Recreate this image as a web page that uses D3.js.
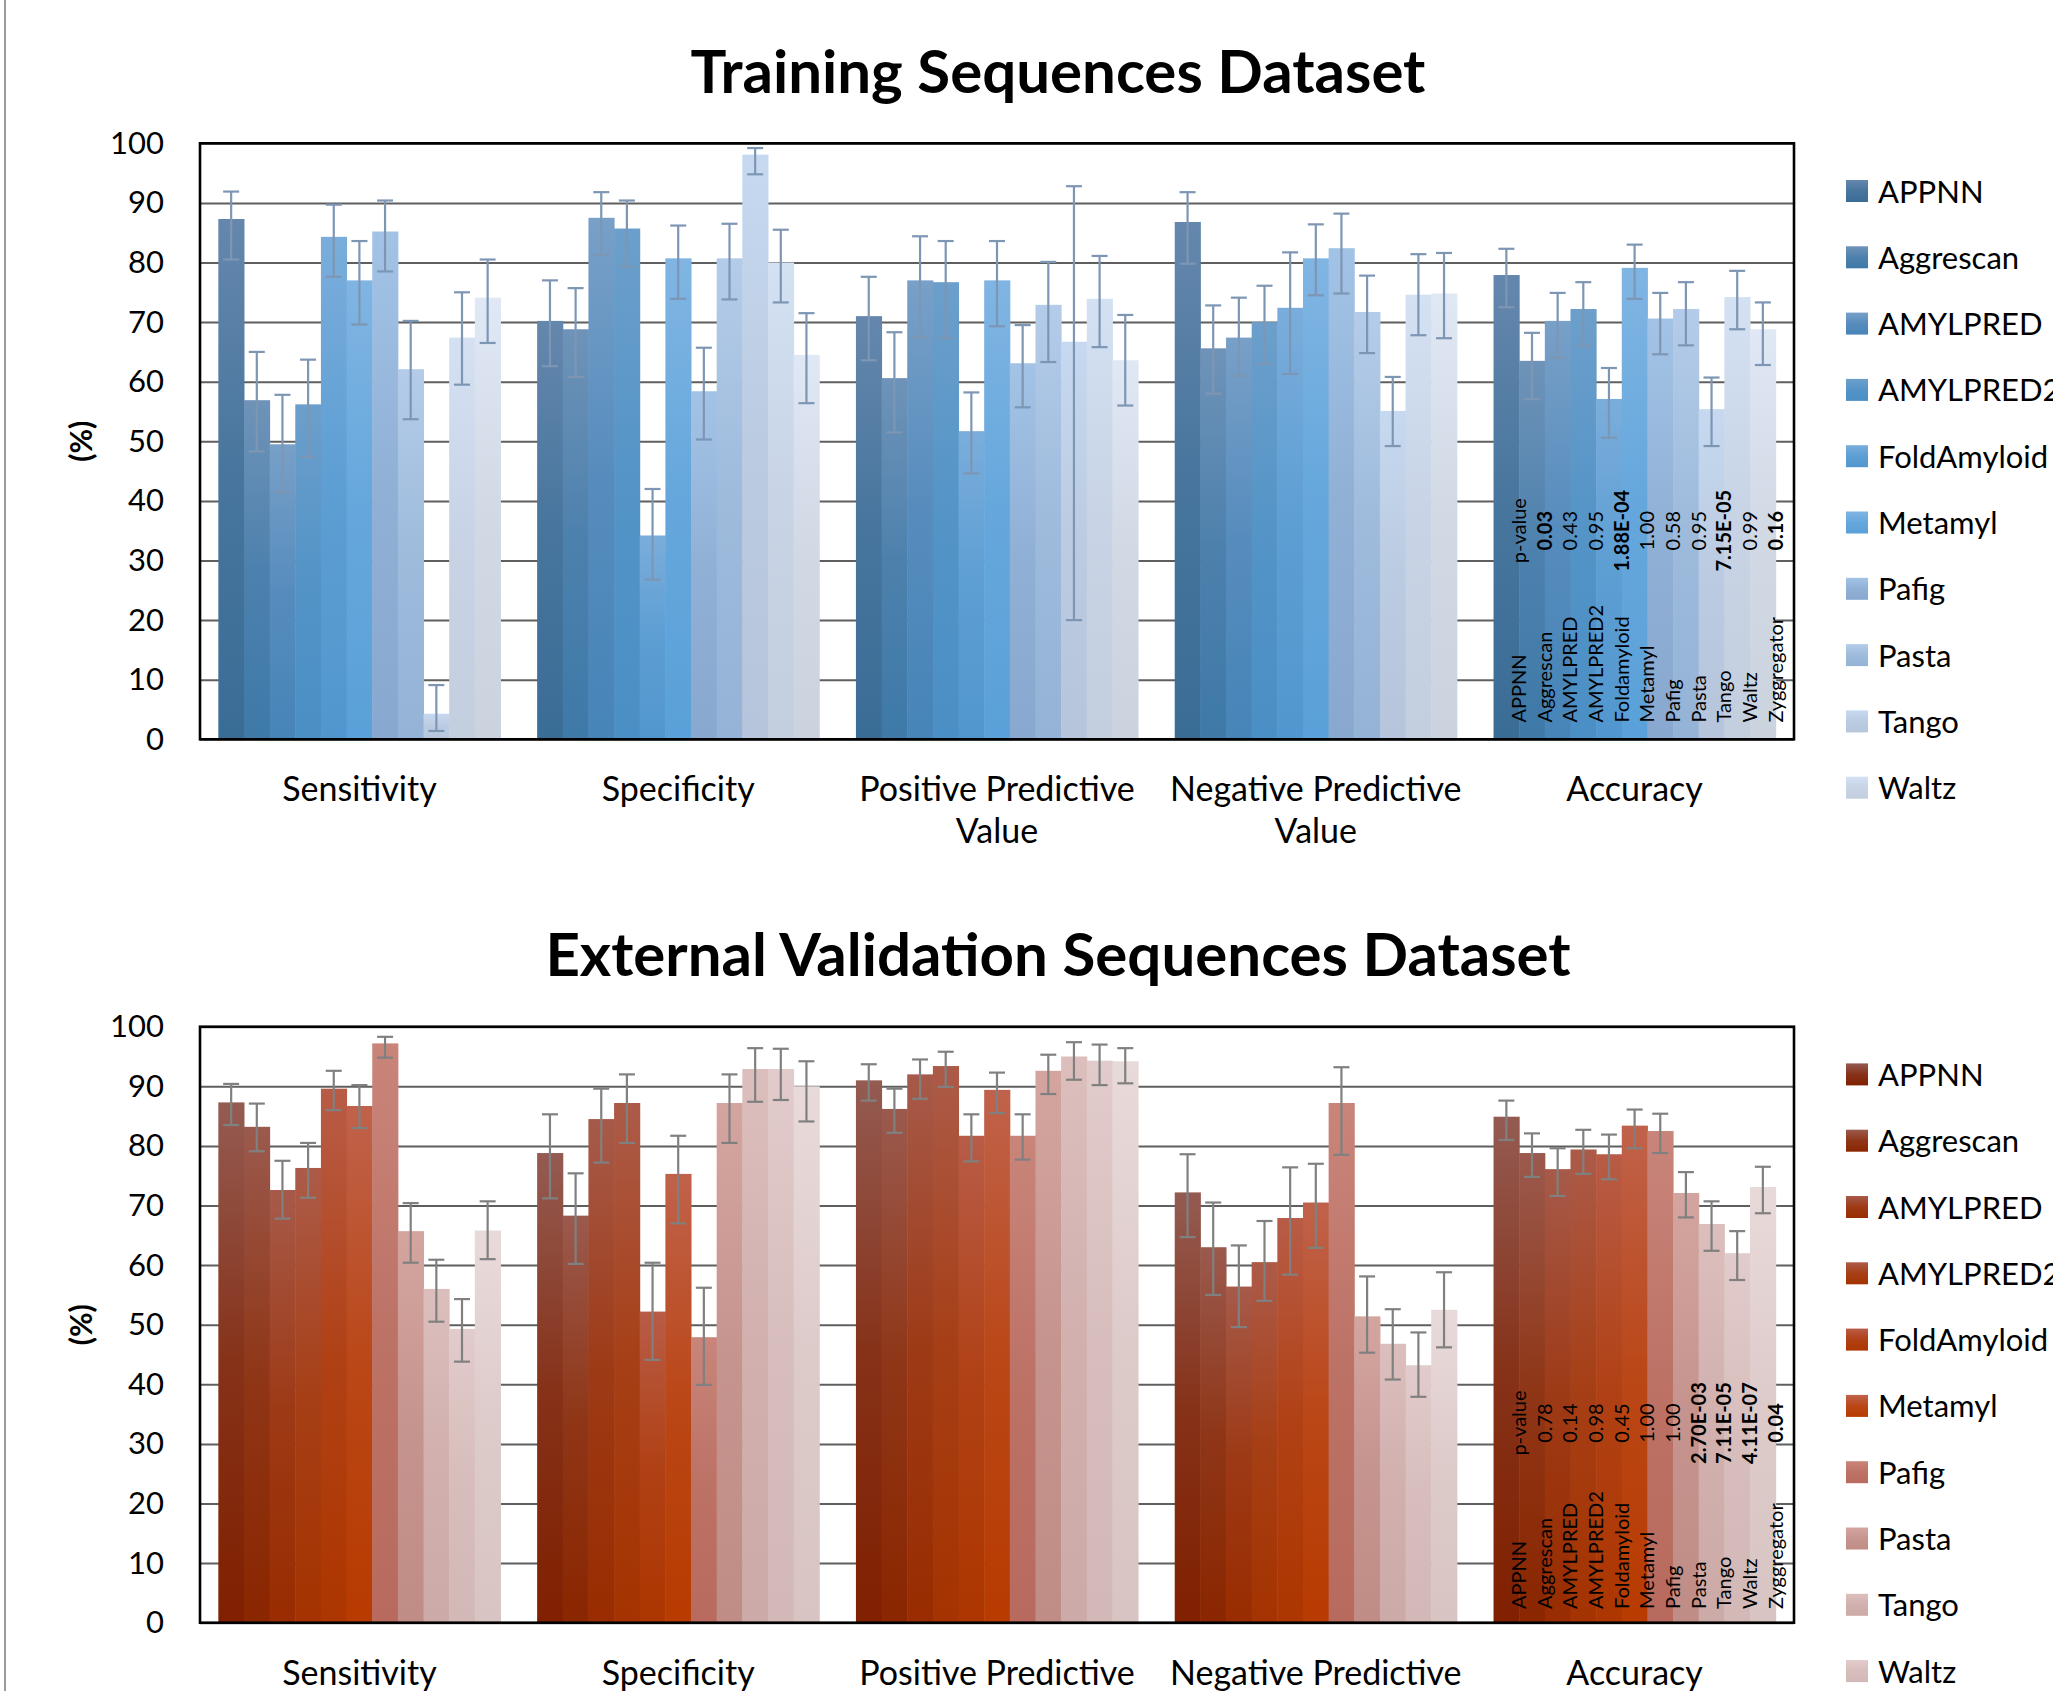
<!DOCTYPE html>
<html>
<head>
<meta charset="utf-8">
<script src="https://d3js.org/d3.v7.min.js"></script>
<title>Training / External Validation</title>
<style>
  body { margin: 0; background: #fff; font-family: Lato, 'Open Sans', sans-serif; }
</style>
</head>
<body>
<script>
// ---- data ----
var tools = ["APPNN","Aggrescan","AMYLPRED","AMYLPRED2","FoldAmyloid","Metamyl","Pafig","Pasta","Tango","Waltz","Zyggregator"];
var legendTools = tools.slice(0, 10);   // Zyggregator does not fit in the legend
var annotTools = ["APPNN","Aggrescan","AMYLPRED","AMYLPRED2","Foldamyloid","Metamyl","Pafig","Pasta","Tango","Waltz","Zyggregator"];
var metrics = ["Sensitivity","Specificity","Positive Predictive Value","Negative Predictive Value","Accuracy"];
var metricLines = [["Sensitivity"],["Specificity"],["Positive Predictive","Value"],["Negative Predictive","Value"],["Accuracy"]];
var yTicks = [0,10,20,30,40,50,60,70,80,90,100];

// rows = metrics, columns = tools
var trainValues = [
  [87.3, 56.9, 49.5, 56.2, 84.3, 77.0, 85.2, 62.1,  4.3, 67.4, 74.1],
  [70.2, 68.8, 87.5, 85.7, 34.2, 80.7, 58.4, 80.7, 98.1, 80.0, 64.5],
  [71.0, 60.6, 77.0, 76.7, 51.7, 77.0, 63.1, 72.9, 66.7, 73.9, 63.6],
  [86.8, 65.6, 67.4, 70.0, 72.4, 80.7, 82.4, 71.7, 55.1, 74.6, 74.8],
  [77.9, 63.5, 70.2, 72.2, 57.1, 79.1, 70.6, 72.2, 55.4, 74.2, 68.8]];
var trainLow = [
  [80.5, 48.3, 41.5, 47.4, 77.6, 69.6, 78.5, 53.7,  1.4, 59.5, 66.5],
  [62.6, 60.8, 81.3, 79.3, 26.8, 73.9, 50.3, 73.8, 94.8, 73.3, 56.4],
  [63.6, 51.5, 67.4, 67.3, 44.6, 69.3, 55.7, 63.3, 20.0, 65.8, 56.0],
  [79.8, 58.0, 61.0, 63.0, 61.3, 74.5, 74.8, 64.8, 49.2, 67.8, 67.3],
  [72.5, 57.1, 64.0, 66.0, 50.6, 73.9, 64.6, 66.1, 49.2, 68.8, 62.8]];
var trainHigh = [
  [91.9, 65.0, 57.8, 63.7, 89.7, 83.6, 90.4, 70.2,  9.1, 75.0, 80.5],
  [77.0, 75.7, 91.8, 90.4, 42.0, 86.2, 65.7, 86.5, 99.2, 85.5, 71.5],
  [77.6, 68.3, 84.4, 83.6, 58.2, 83.6, 69.5, 80.1, 92.8, 81.1, 71.2],
  [91.8, 72.8, 74.1, 76.1, 81.7, 86.4, 88.2, 77.8, 60.8, 81.4, 81.6],
  [82.3, 68.2, 74.9, 76.7, 62.3, 83.0, 74.9, 76.7, 60.7, 78.6, 73.3]];
var trainP    = ["p-value","0.03","0.43","0.95","1.88E-04","1.00","0.58","0.95","7.15E-05","0.99","0.16"];
var trainBold = [false, true, false, false, true, false, false, false, true, false, true];

var extValues = [
  [87.3, 83.2, 72.6, 76.3, 89.6, 86.7, 97.2, 65.7, 56.0, 49.3, 65.8],
  [78.8, 68.3, 84.5, 87.2, 52.2, 75.3, 47.9, 87.2, 92.9, 92.9, 90.0],
  [91.0, 86.2, 92.0, 93.4, 81.7, 89.4, 81.7, 92.6, 95.0, 94.3, 94.2],
  [72.2, 63.0, 56.4, 60.5, 67.9, 70.5, 87.2, 51.4, 46.8, 43.2, 52.5],
  [84.9, 78.8, 76.1, 79.4, 78.6, 83.4, 82.5, 72.1, 66.9, 62.0, 73.1]];
var extLow = [
  [83.5, 79.1, 67.8, 71.3, 86.0, 83.0, 94.8, 60.4, 50.5, 43.8, 61.0],
  [71.2, 60.2, 77.2, 80.5, 44.1, 67.0, 39.9, 80.5, 87.4, 87.7, 84.1],
  [87.6, 82.2, 87.9, 89.9, 77.4, 85.5, 77.7, 88.7, 91.1, 90.2, 90.5],
  [64.7, 55.0, 49.6, 54.0, 58.4, 62.9, 78.5, 45.3, 40.8, 37.9, 46.2],
  [81.0, 74.8, 71.6, 75.3, 74.4, 79.6, 78.8, 68.0, 62.4, 57.5, 68.7]];
var extHigh = [
  [90.4, 87.1, 77.5, 80.5, 92.6, 90.2, 98.3, 70.4, 60.9, 54.3, 70.7],
  [85.3, 75.4, 89.6, 92.0, 60.4, 81.7, 56.2, 92.0, 96.4, 96.3, 94.2],
  [93.7, 89.6, 94.5, 95.8, 85.3, 92.3, 85.3, 95.3, 97.4, 97.0, 96.4],
  [78.6, 70.5, 63.3, 67.4, 76.4, 77.0, 93.2, 58.1, 52.6, 48.7, 58.8],
  [87.6, 82.1, 79.6, 82.7, 81.9, 86.1, 85.4, 75.6, 70.7, 65.7, 76.5]];
var extP    = ["p-value","0.78","0.14","0.98","0.45","1.00","1.00","2.70E-03","7.11E-05","4.11E-07","0.04"];
var extBold = [false, false, false, false, false, false, false, true, true, true, true];

// ---- colours (top of bar, bottom of bar) ----
var blueTop    = ["#6587ad","#6f93b8","#78a0c8","#6c9fcb","#7aaddb","#80b5e3","#a3c3e6","#b4cce9","#c6d9f0","#d3e1f2","#dfe8f4"];
var blueBottom = ["#3a6d96","#3e79a8","#4784b8","#4a8fc5","#5197cf","#5aa1d9","#88a8cf","#94b3d6","#b6c5db","#c3cfdf","#cbd3df"];
var redTop     = ["#945b52","#9b5a4e","#a75a4a","#ac5b49","#b85c47","#c0624b","#c9857a","#d4a59f","#dcbfbd","#e2cbcb","#e9dada"];
var redBottom  = ["#802000","#8a2600","#992c00","#a43300","#ad3600","#b83b00","#b86a5e","#c08c86","#ccaaa7","#d2b8b6","#d8c5c3"];

var W = 2053, H = 1691,
    left = 200, right = 1794,   // plot x extent
    plotH = 596;

var svg = d3.select("body").append("svg")
  .attr("width", W)
  .attr("height", H)
  .style("display", "block");

var defs = svg.append("defs");

// thin frame line on the left edge of the figure
svg.append("line")
  .attr("x1", 5).attr("x2", 5).attr("y1", 0).attr("y2", H)
  .attr("stroke", "#9a9a9a").attr("stroke-width", 2);

function makeGradients(id, tops, bottoms){
  tops.forEach(function(c, i){
    var g = defs.append("linearGradient")
      .attr("id", id + i)
      .attr("x1", 0).attr("y1", 0).attr("x2", 0).attr("y2", 1);
    g.append("stop").attr("offset", "0%").attr("stop-color", c);
    g.append("stop").attr("offset", "50%").attr("stop-color", d3.interpolateRgb(c, bottoms[i])(0.7));
    g.append("stop").attr("offset", "100%").attr("stop-color", bottoms[i]);
  });
}
makeGradients("blue", blueTop, blueBottom);
makeGradients("red", redTop, redBottom);

function drawPanel(p){
  var top = p.top, bottom = p.top + plotH;

  var x = d3.scaleBand().domain(metrics).range([left, right])
    .paddingInner(0.115).paddingOuter(0.0575);
  var xi = d3.scaleBand().domain(tools).range([0, x.bandwidth()]);
  var y = d3.scaleLinear().domain([0, 100]).range([bottom, top]);

  var g = svg.append("g");

  g.append("text")
    .attr("x", 1058).attr("y", p.titleY)
    .attr("text-anchor", "middle")
    .attr("font-size", 60).attr("font-weight", "bold")
    .text(p.title);

  // grid lines
  g.append("g")
    .attr("transform", "translate(" + left + ",0)")
    .call(d3.axisLeft(y).tickValues(yTicks).tickSize(-(right - left)).tickFormat(""))
    .call(function(a){
      a.select(".domain").remove();
      a.selectAll("line").attr("stroke", "#5f5f5f").attr("stroke-width", 2);
    });

  // tick labels
  g.append("g")
    .attr("transform", "translate(" + left + ",0)")
    .call(d3.axisLeft(y).tickValues(yTicks).tickSize(0).tickPadding(36))
    .call(function(a){
      a.select(".domain").remove();
      a.selectAll("text").attr("font-size", 31).attr("font-family", "Lato").attr("fill", "#000");
    });

  g.append("text")
    .attr("transform", "translate(92," + (top + plotH / 2) + ") rotate(-90)")
    .attr("text-anchor", "middle")
    .attr("font-size", 30).attr("font-weight", "bold")
    .text("(%)");

  // bars
  var groups = g.selectAll("g.metric")
    .data(metrics)
    .enter().append("g")
      .attr("class", "metric")
      .attr("transform", function(d){ return "translate(" + x(d) + ",0)"; });

  groups.each(function(m, mi){
    var grp = d3.select(this);
    grp.selectAll("rect")
      .data(tools)
      .enter().append("rect")
        .attr("x", function(t){ return xi(t); })
        .attr("width", xi.bandwidth() + 0.5)
        .attr("y", function(t, i){ return y(p.values[mi][i]); })
        .attr("height", function(t, i){ return bottom - y(p.values[mi][i]); })
        .attr("fill", function(t, i){ return "url(#" + p.grad + i + ")"; });

    var eb = grp.selectAll("g.err")
      .data(tools)
      .enter().append("g")
        .attr("class", "err")
        .attr("stroke", p.errColor)
        .attr("stroke-width", 2.2);
    var cx = function(t){ return xi(t) + xi.bandwidth() / 2; };
    eb.append("line")
      .attr("x1", cx).attr("x2", cx)
      .attr("y1", function(t, i){ return y(p.low[mi][i]); })
      .attr("y2", function(t, i){ return y(p.high[mi][i]); });
    eb.append("line")
      .attr("x1", function(t){ return cx(t) - 8; }).attr("x2", function(t){ return cx(t) + 8; })
      .attr("y1", function(t, i){ return y(p.low[mi][i]); })
      .attr("y2", function(t, i){ return y(p.low[mi][i]); });
    eb.append("line")
      .attr("x1", function(t){ return cx(t) - 8; }).attr("x2", function(t){ return cx(t) + 8; })
      .attr("y1", function(t, i){ return y(p.high[mi][i]); })
      .attr("y2", function(t, i){ return y(p.high[mi][i]); });
  });

  // p-value annotations inside the Accuracy group
  var acc = x("Accuracy");
  var ann = g.append("g").attr("font-size", 20).attr("fill", "#000");
  ann.selectAll("text.name")
    .data(annotTools)
    .enter().append("text")
      .attr("class", "name")
      .attr("transform", function(t, i){
        return "translate(" + (acc + xi(tools[i]) + xi.bandwidth() + 7) + "," + y(p.nameAt) + ") rotate(-90)";
      })
      .text(function(t){ return t; });
  ann.selectAll("text.pv")
    .data(p.pvals)
    .enter().append("text")
      .attr("class", "pv")
      .attr("text-anchor", "middle")
      .attr("font-weight", function(d, i){ return p.bold[i] ? "bold" : "normal"; })
      .attr("transform", function(d, i){
        return "translate(" + (acc + xi(tools[i]) + xi.bandwidth() + 7) + "," + y(p.pvalAt) + ") rotate(-90)";
      })
      .text(function(d){ return d; });

  // plot frame
  g.append("rect")
    .attr("x", left).attr("y", top)
    .attr("width", right - left).attr("height", plotH)
    .attr("fill", "none").attr("stroke", "#000").attr("stroke-width", 2.6);

  // category labels
  g.selectAll("text.cat")
    .data(metrics)
    .enter().append("text")
      .attr("class", "cat")
      .attr("text-anchor", "middle")
      .attr("font-size", 34)
      .attr("y", bottom + 62)
      .each(function(m, i){
        var t = d3.select(this);
        metricLines[i].forEach(function(line, k){
          t.append("tspan")
            .attr("x", x(m) + x.bandwidth() / 2)
            .attr("dy", k === 0 ? 0 : 42)
            .text(line);
        });
      });

  // legend
  var leg = g.selectAll("g.leg")
    .data(legendTools)
    .enter().append("g")
      .attr("class", "leg")
      .attr("transform", function(d, i){ return "translate(1846," + (top + 47.7 + i * 66.3) + ")"; });
  leg.append("rect")
    .attr("x", 0).attr("y", -11).attr("width", 22).attr("height", 22)
    .attr("fill", function(d, i){ return "url(#" + p.grad + i + ")"; });
  leg.append("text")
    .attr("x", 32).attr("y", 11.5)
    .attr("font-size", 31)
    .text(function(d){ return d; });
}

drawPanel({
  title: "Training Sequences Dataset", titleY: 93, top: 143.3,
  values: trainValues, low: trainLow, high: trainHigh,
  pvals: trainP, bold: trainBold, nameAt: 2.8, pvalAt: 35,
  grad: "blue", errColor: "#7d96b4"
});
drawPanel({
  title: "External Validation Sequences Dataset", titleY: 976, top: 1026.7,
  values: extValues, low: extLow, high: extHigh,
  pvals: extP, bold: extBold, nameAt: 2.3, pvalAt: 33.5,
  grad: "red", errColor: "#808080"
});
</script>
</body>
</html>
